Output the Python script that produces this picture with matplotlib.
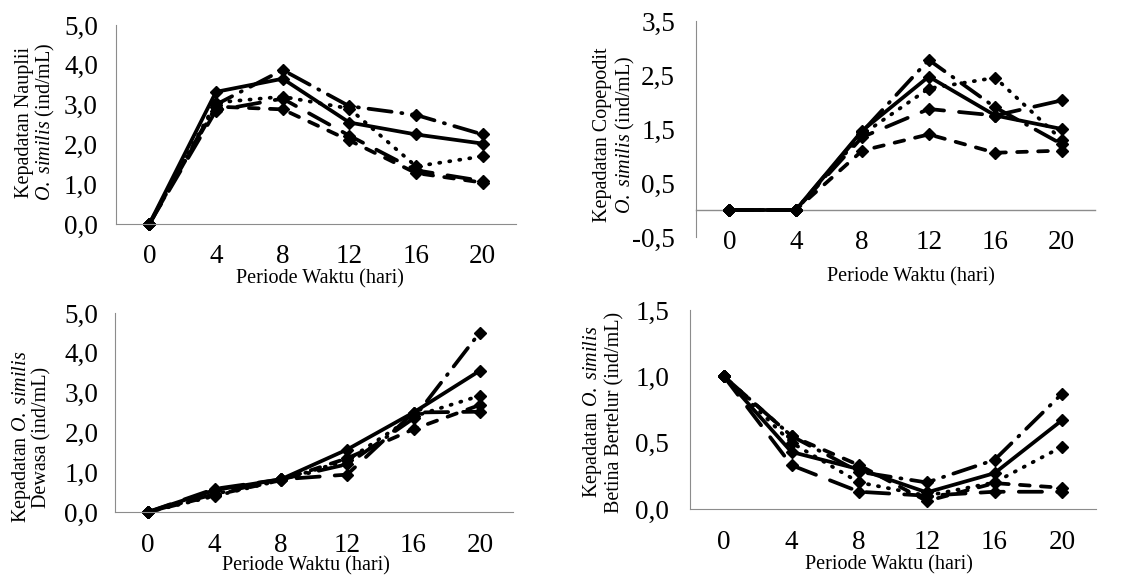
import matplotlib
matplotlib.use("Agg")
import matplotlib.pyplot as plt
from matplotlib.ticker import FuncFormatter

plt.rcParams['font.family'] = ['Liberation Serif', 'DejaVu Serif']
plt.rcParams['mathtext.fontset'] = 'custom'
plt.rcParams['mathtext.rm'] = 'Liberation Serif'
plt.rcParams['mathtext.it'] = 'Liberation Serif:italic'

days = [0, 4, 8, 12, 16, 20]

# nauplii
naup_solid = [0, 3.32, 3.65, 2.55, 2.25, 2.02]
naup_dot = [0, 3.05, 3.2, 2.9, 1.45, 1.7]
naup_dash = [0, 2.95, 2.88, 2.1, 1.28, 1.04]
naup_longdash = [0, 2.85, 3.15, 2.22, 1.35, 1.08]
naup_dashdot = [0, 3.0, 3.87, 2.96, 2.74, 2.25]

# copepodit
cope_solid = [0, 0, 1.47, 2.47, 1.75, 1.5]
cope_dot = [0, 0, 1.4, 2.25, 2.45, 1.3]
cope_dash = [0, 0, 1.1, 1.4, 1.06, 1.1]
cope_longdash = [0, 0, 1.35, 1.87, 1.75, 2.03]
cope_dashdot = [0, 0, 1.45, 2.78, 1.9, 1.22]

# dewasa
dew_solid = [0, 0.55, 0.82, 1.57, 2.5, 3.55]
dew_dot = [0, 0.4, 0.8, 1.3, 2.4, 2.92]
dew_dash = [0, 0.42, 0.8, 1.35, 2.08, 2.69]
dew_longdash = [0, 0.58, 0.82, 0.94, 2.5, 2.52]
dew_dashdot = [0, 0.45, 0.82, 1.2, 2.35, 4.51]

# betina bertelur
bet_solid = [1.0, 0.43, 0.3, 0.125, 0.27, 0.67]
bet_dot = [1.0, 0.5, 0.2, 0.1, 0.2, 0.47]
bet_dash = [1.0, 0.55, 0.33, 0.06, 0.195, 0.16]
bet_longdash = [1.0, 0.33, 0.13, 0.1, 0.13, 0.13]
bet_dashdot = [1.0, 0.55, 0.28, 0.2, 0.37, 0.87]

# solid, round dot, dash, long dash, long dash dot (units of line width)
styles = ['-', (0, (0.3, 2.4)), (0, (2.6, 3.0)), (0, (6.2, 4.0)), (0, (6.2, 2.6, 0.3, 2.6))]

W, H = 1130, 575


def px_axes(fig, left, right, top, bottom):  # pixel box -> axes
    return fig.add_axes([left / W, 1 - bottom / H, (right - left) / W, (bottom - top) / H])


def comma(v, pos):
    return f"{v:.1f}".replace('.', ',')


def draw_panel(ax, series, ylim, yticks, xpad, ypad, zero_line=False):
    for s, ls in zip(series, styles):
        ax.plot(days, s, color='black', linestyle=ls, linewidth=2.7, dash_capstyle='round',
                marker='D', markersize=6.5, markerfacecolor='black', markeredgecolor='black')
    ax.set_xlim(-2, 22)
    ax.set_ylim(*ylim)
    ax.set_xticks(days)
    ax.set_yticks(yticks)
    ax.yaxis.set_major_formatter(FuncFormatter(comma))
    ax.tick_params(length=0, labelsize=19.5)
    ax.tick_params(axis='x', pad=xpad)
    ax.tick_params(axis='y', pad=ypad)
    for side in ['top', 'right']:
        ax.spines[side].set_visible(False)
    ax.spines['left'].set_color('#8c8c8c')
    ax.spines['bottom'].set_color('#8c8c8c')
    if zero_line:
        ax.spines['bottom'].set_visible(False)
        ax.axhline(0, color='#8c8c8c', linewidth=1.0, zorder=1)
    for ln in ax.lines:
        ln.set_clip_on(False)
    ax.patch.set_alpha(0)


def ylabel(fig, x1, x2, y, line1, line2):
    fig.text(x1 / W, 1 - y / H, line1, rotation=90, ha='center', va='center', fontsize=14.5)
    fig.text(x2 / W, 1 - y / H, line2, rotation=90, ha='center', va='center', fontsize=14.5)


def xlabel(fig, x, y, va='center'):
    fig.text(x / W, 1 - y / H, "Periode Waktu (hari)", ha='center', va=va, fontsize=14.5)


fig = plt.figure(figsize=(11.3, 5.75), dpi=100)

ax1 = px_axes(fig, 116, 516, 25, 224)
draw_panel(ax1, [naup_solid, naup_dot, naup_dash, naup_longdash, naup_dashdot],
           (0, 5), [0, 1, 2, 3, 4, 5], 14.5, 13)
ylabel(fig, 25, 45, 122, "Kepadatan Nauplii", r"$\mathit{O.\ similis}$ (ind/mL)")
xlabel(fig, 320, 269, va='top')

ax2 = px_axes(fig, 696, 1095, 21, 237)
draw_panel(ax2, [cope_solid, cope_dot, cope_dash, cope_longdash, cope_dashdot],
           (-0.5, 3.5), [-0.5, 0.5, 1.5, 2.5, 3.5], -5, 15, zero_line=True)
ylabel(fig, 603, 625, 135, "Kepadatan Copepodit", r"$\mathit{O.\ similis}$ (ind/mL)")
xlabel(fig, 911, 277)

ax3 = px_axes(fig, 115, 513, 313, 512)
draw_panel(ax3, [dew_solid, dew_dot, dew_dash, dew_longdash, dew_dashdot],
           (0, 5), [0, 1, 2, 3, 4, 5], 15, 12)
ylabel(fig, 22, 42, 437, r"Kepadatan $\mathit{O.\ similis}$", "Dewasa (ind/mL)")
xlabel(fig, 306, 575, va='bottom')

ax4 = px_axes(fig, 690, 1096, 310, 509)
draw_panel(ax4, [bet_solid, bet_dot, bet_dash, bet_longdash, bet_dashdot],
           (0, 1.5), [0, 0.5, 1.0, 1.5], 15, 15)
ylabel(fig, 593, 615, 412, r"Kepadatan $\mathit{O.\ similis}$", "Betina Bertelur (ind/mL)")
xlabel(fig, 889, 574, va='bottom')

fig.savefig("out.png", dpi=100)
